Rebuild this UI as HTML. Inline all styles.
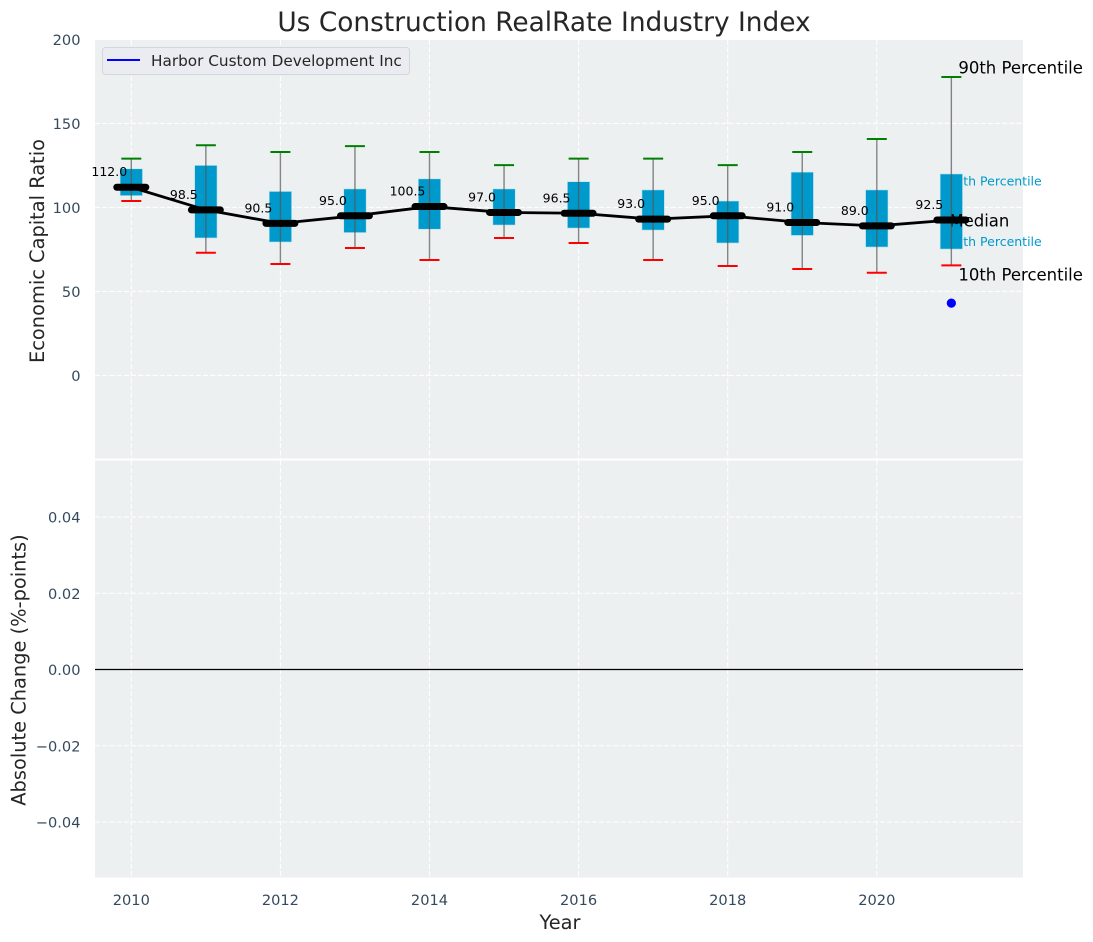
<!DOCTYPE html>
<html>
<head>
<meta charset="utf-8">
<title>Us Construction RealRate Industry Index</title>
<style>
html,body{margin:0;padding:0;background:#fff;}
svg{display:block;font-family:"DejaVu Sans","Liberation Sans",sans-serif;}
</style>
</head>
<body>
<svg id="chart" width="1093" height="942" viewBox="0 0 1093 942" xmlns="http://www.w3.org/2000/svg">
  <rect x="95" y="40" width="928" height="418.5" fill="#ecf0f1"/>
  <rect x="95" y="460.5" width="928" height="417" fill="#ecf0f1"/>
  <g id="grid"></g>
  <g id="marks"></g>
  <g id="ticks"></g>
  <text x="544" y="31" text-anchor="middle" font-size="26.4" fill="#262626">Us Construction RealRate Industry Index</text>
  <text x="560" y="929" text-anchor="middle" font-size="19.4" fill="#262626">Year</text>
  <text transform="translate(44 251) rotate(-90)" text-anchor="middle" font-size="19.4" fill="#262626">Economic Capital Ratio</text>
  <text transform="translate(25.5 670) rotate(-90)" text-anchor="middle" font-size="19.4" fill="#262626">Absolute Change (%-points)</text>
  <g>
    <rect x="102.5" y="47.5" width="307" height="27" rx="3" fill="#ebecf1" stroke="#d4d6da" stroke-width="1"/>
    <line x1="107" x2="140" y1="60" y2="60" stroke="#0000ff" stroke-width="2"/>
    <text x="151" y="66" font-size="15.28" fill="#262626">Harbor Custom Development Inc</text>
  </g>
</svg>
<script>
const years = [2010, 2011, 2012, 2013, 2014, 2015, 2016, 2017, 2018, 2019, 2020, 2021];
const medians = [112.0, 98.5, 90.5, 95.0, 100.5, 97.0, 96.5, 93.0, 95.0, 91.0, 89.0, 92.5];
const p90 = [129, 137, 133, 136.5, 133, 125.2, 129, 129, 125.2, 133, 140.7, 177.6];
const p75 = [123, 125, 109.5, 111, 117, 111, 115.3, 110.4, 103.8, 121, 110.4, 119.9];
const p25 = [107, 81.8, 79.4, 85, 87, 89.5, 87.7, 86.5, 78.8, 83.3, 76.4, 75.2];
const p10 = [103.8, 73, 66.3, 75.8, 68.7, 81.8, 78.8, 68.7, 65.1, 63.3, 61.1, 65.5];
const companyYear = [2021];
const companyValue = [43];
const xTickLabels = [2010, 2012, 2014, 2016, 2018, 2020];
const topYTickLabels = [0, 50, 100, 150, 200];
const bottomYTickLabels = [-0.04, -0.02, 0, 0.02, 0.04];

const NS = 'http://www.w3.org/2000/svg';
const X = v => 131.3 + (v - 2010) * 74.55;
const Y = v => 375.4 - v * 1.68;
const Y2 = v => 669.5 - v * 3812.5;
const gridG = document.getElementById('grid');
const marksG = document.getElementById('marks');
const ticksG = document.getElementById('ticks');

function mk(parent, tag, props, txt) {
  const e = document.createElementNS(NS, tag);
  for (const k in props) e.setAttribute(k, props[k]);
  if (txt !== undefined) e.textContent = txt;
  parent.appendChild(e);
  return e;
}
const dash = {stroke: '#ffffff', 'stroke-width': 1.1, 'stroke-dasharray': '5 2.2', opacity: 0.95};

xTickLabels.forEach(t => {
  const a = mk(gridG, 'line', Object.assign({x1: X(t), x2: X(t), y1: 40, y2: 458.5}, dash));
  
  
  const b = mk(gridG, 'line', Object.assign({x1: X(t), x2: X(t), y1: 460.5, y2: 877.5}, dash));
  
  
  const l = mk(ticksG, 'text', {x: X(t), y: 905, 'text-anchor': 'middle', 'font-size': 14.6, fill: '#34495e'}, String(t));
  
  
});
topYTickLabels.forEach(t => {
  if (t !== 200) {
    const g = mk(gridG, 'line', Object.assign({x1: 95, x2: 1023, y1: Y(t), y2: Y(t)}, dash));
    
    
  }
  const l = mk(ticksG, 'text', {x: 80.5, y: Y(t) + 5.5, 'text-anchor': 'end', 'font-size': 14.6, fill: '#34495e'}, String(t));
  
  
});
bottomYTickLabels.forEach(t => {
  const g = mk(gridG, 'line', Object.assign({x1: 95, x2: 1023, y1: Y2(t), y2: Y2(t)}, dash));
  
  
  const s = (t < 0 ? '\u2212' : '') + Math.abs(t).toFixed(2);
  const l = mk(ticksG, 'text', {x: 80.5, y: Y2(t) + 5.5, 'text-anchor': 'end', 'font-size': 14.6, fill: '#34495e'}, s);
  
  
});

const zero = mk(marksG, 'line', {x1: 95, x2: 1023, y1: Y2(0), y2: Y2(0), stroke: '#000', 'stroke-width': 1.2});



const last = years.length - 1;
const t75 = mk(marksG, 'text', {x: X(years[last]) - 4, y: Y(p75[last]) + 11.5, 'font-size': 12.5, fill: '#0099cc'}, '75th Percentile');


const t25 = mk(marksG, 'text', {x: X(years[last]) - 4, y: Y(p25[last]) - 3, 'font-size': 12.5, fill: '#0099cc'}, '25th Percentile');



years.forEach((yr, i) => {
  const cx = X(yr);
  const box = mk(marksG, 'rect', {x: cx - 11.2, y: Y(p75[i]), width: 22.4, height: Y(p25[i]) - Y(p75[i]), fill: '#0099cc', stroke: '#bfe3ef', 'stroke-width': 0.6});
  
  
});

const tm = mk(marksG, 'text', {x: X(years[last]) - 2, y: Y(medians[last]) + 6.5, 'font-size': 16.5, fill: '#000'}, 'Median');



years.forEach((yr, i) => {
  const cx = X(yr);
  const w = mk(marksG, 'line', {x1: cx, x2: cx, y1: Y(p90[i]), y2: Y(p10[i]), stroke: '#555', 'stroke-width': 1.4, opacity: 0.7});
  
  
  const hi = mk(marksG, 'line', {x1: cx - 10, x2: cx + 10, y1: Y(p90[i]), y2: Y(p90[i]), stroke: '#008000', 'stroke-width': 2});
  
  
  const lo = mk(marksG, 'line', {x1: cx - 10, x2: cx + 10, y1: Y(p10[i]), y2: Y(p10[i]), stroke: '#ff0000', 'stroke-width': 2});
  
  
});

const path = mk(marksG, 'polyline', {points: years.map((yr, i) => X(yr) + ',' + Y(medians[i])).join(' '), fill: 'none', stroke: '#000', 'stroke-width': 2.8});



years.forEach((yr, i) => {
  const cx = X(yr);
  const m = mk(marksG, 'line', {x1: cx - 14.5, x2: cx + 14.5, y1: Y(medians[i]), y2: Y(medians[i]), stroke: '#000', 'stroke-width': 7, 'stroke-linecap': 'round'});
  
  
  const t = mk(marksG, 'text', {x: cx - 22, y: Y(medians[i]) - 11, 'text-anchor': 'middle', 'font-size': 12.5, fill: '#000'}, medians[i].toFixed(1));
  
  
});

companyYear.forEach((yr, i) => {
  const c = mk(marksG, 'circle', {cx: X(yr), cy: Y(companyValue[i]), r: 4.6, fill: '#0000ff'});
  
  
});

const t90 = mk(marksG, 'text', {x: X(years[last]) + 7, y: Y(p90[last]) - 3.5, 'font-size': 16.5, fill: '#000'}, '90th Percentile');


const t10 = mk(marksG, 'text', {x: X(years[last]) + 7, y: Y(p10[last]) + 15, 'font-size': 16.5, fill: '#000'}, '10th Percentile');


</script>
</body>
</html>
